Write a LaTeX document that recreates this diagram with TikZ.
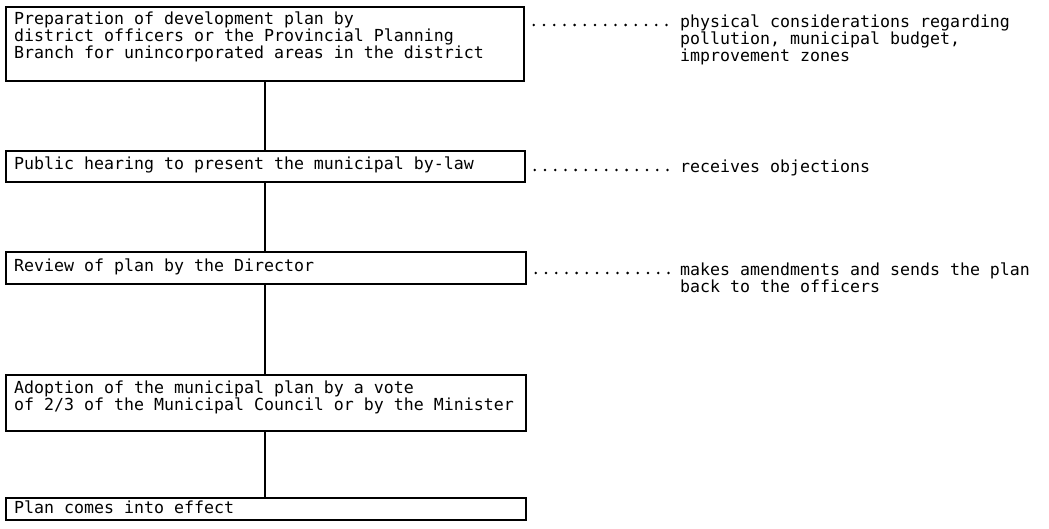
\documentclass[tikz,border=0pt]{standalone}
\usepackage{fontspec}
\newfontfamily\typefont{DejaVu Sans Mono}
\usetikzlibrary{calc}
\begin{document}
\begin{tikzpicture}[x=1pt,y=-1pt,
  typed/.style={font=\typefont\fontsize{16.6}{17}\selectfont},
  stage/.style={draw, line width=1.8pt, anchor=north west, inner sep=0pt},
  words/.style={typed, anchor=north west, align=left, inner sep=0pt},
  link/.style={line width=2pt},
  leader/.style={line width=2.8pt, line cap=round, dash pattern=on 0pt off 10.2pt}]
\useasboundingbox (0,0) rectangle (1049,528);

% frames of the procedure stages
\node[stage, minimum width=518pt, minimum height=74pt] (b1) at (5,6) {};
\node[stage, minimum width=519pt, minimum height=31pt] (b2) at (5,150) {};
\node[stage, minimum width=520pt, minimum height=32pt] (b3) at (5,251) {};
\node[stage, minimum width=520pt, minimum height=56pt] (b4) at (5,374) {};
\node[stage, minimum width=520pt, minimum height=22pt] (b5) at (5,497) {};

% stage texts
\node[words] (t1) at (14,11.6)
  {Preparation of development plan by\\district officers or the Provincial Planning\\Branch for unincorporated areas in the district};
\node[words] (t2) at (14,156.6) {Public hearing to present the municipal by-law};
\node[words] (t3) at (14,258.6) {Review of plan by the Director};
\node[words] (t4) at (14,380.6)
  {Adoption of the municipal plan by a vote\\of 2/3 of the Municipal Council or by the Minister};
\node[words] (t5) at (14,500.6) {Plan comes into effect};

% connecting lines
\draw[link] (b1.south) -- (b1.south |- b2.north);
\draw[link] (b1.south |- b2.south) -- (b1.south |- b3.north);
\draw[link] (b1.south |- b3.south) -- (b1.south |- b4.north);
\draw[link] (b1.south |- b4.south) -- (b1.south |- b5.north);

% side notes
\node[words] (a1) at (680,14.6)
  {physical considerations regarding\\pollution, municipal budget,\\improvement zones};
\node[words] (a2) at (680,159.6) {receives objections};
\node[words] (a3) at (680,262.6)
  {makes amendments and sends the plan\\back to the officers};

% dotted leaders
\draw[leader] ($(b1.north east |- a1.north west)+(9,10.4)$) -- ($(a1.north west)+(-4,10.4)$);
\draw[leader] ($(b2.north east |- a2.north west)+(9,10.4)$) -- ($(a2.north west)+(-4,10.4)$);
\draw[leader] ($(b3.north east |- a3.north west)+(9,10.4)$) -- ($(a3.north west)+(-4,10.4)$);
\end{tikzpicture}
\end{document}
